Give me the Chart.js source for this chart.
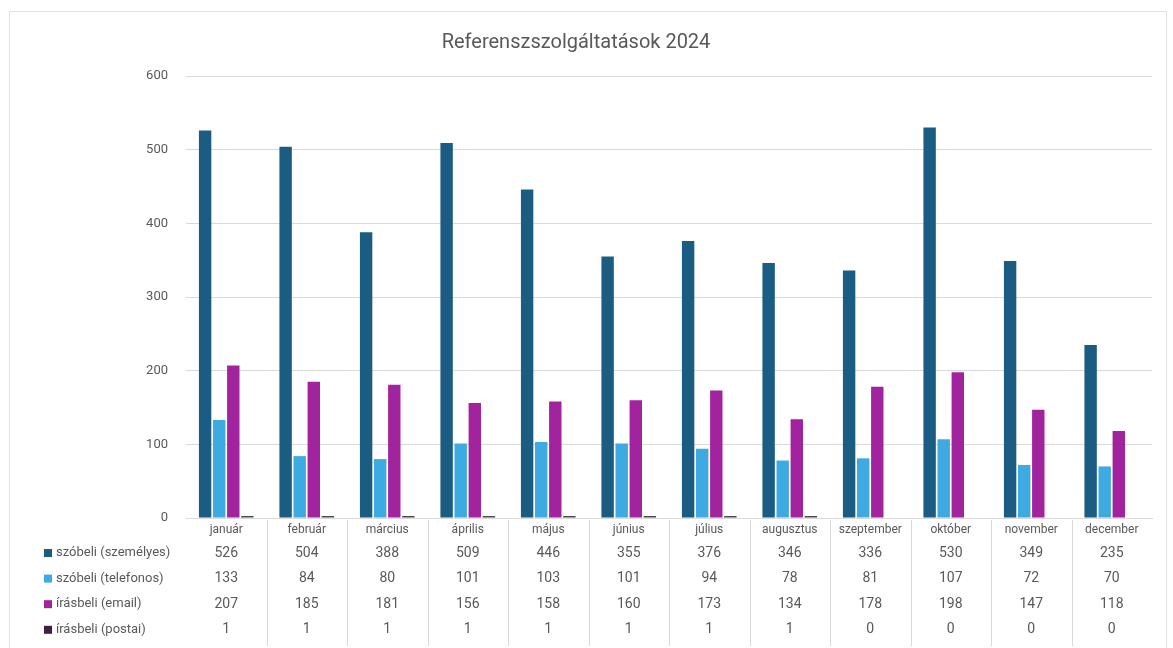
<!DOCTYPE html>
<html>
<head>
<meta charset="utf-8">
<script src="https://cdn.jsdelivr.net/npm/chart.js@4.4.1/dist/chart.umd.min.js"></script>
<style>
  html, body { margin: 0; padding: 0; background: #fff; }
  #wrap { width: 1173px; height: 648px; position: relative; }
</style>
</head>
<body>
<div id="wrap"><canvas id="chart" width="1173" height="648"></canvas></div>
<script>
/* ================== DATA ================== */
const months = ["január", "február", "március", "április", "május", "június",
                "július", "augusztus", "szeptember", "október", "november", "december"];
const seriesNames = ["szóbeli (személyes)", "szóbeli (telefonos)", "írásbeli (email)", "írásbeli (postai)"];
const szemelyes = [526, 504, 388, 509, 446, 355, 376, 346, 336, 530, 349, 235];
const telefonos = [133, 84, 80, 101, 103, 101, 94, 78, 81, 107, 72, 70];
const email     = [207, 185, 181, 156, 158, 160, 173, 134, 178, 198, 147, 118];
const postai    = [1, 1, 1, 1, 1, 1, 1, 1, 0, 0, 0, 0];
const yTicks    = [0, 100, 200, 300, 400, 500, 600];

const colors = ["#1a5c82", "#3eaae2", "#a2239e", "#3e2040"];
const TEXT = "#595959";
const GRID = "#d9d9d9";
const FONT = "Roboto, 'Liberation Sans', sans-serif";

/* ================== TABLE + FRAME PLUGIN ================== */
const dataTable = {
    id: "dataTable",
    beforeDraw(chart) {
        const c = chart.ctx;
        c.save();
        c.strokeStyle = "#e2e2e2";
        c.lineWidth = 1;
        c.strokeRect(9.5, 11.5, 1157, 640);
        c.restore();
    },
    afterDraw(chart) {
        const c = chart.ctx;
        const x = chart.scales.x;
        const area = chart.chartArea;
        const step = x.getPixelForValue(1) - x.getPixelForValue(0);
        c.save();

        // column separators
        c.strokeStyle = GRID;
        c.lineWidth = 1;
        for (let i = 1; i < months.length; i++) {
            const px = Math.round(x.getPixelForValue(i) - step / 2) + 0.5;
            c.beginPath();
            c.moveTo(px, area.bottom + 2);
            c.lineTo(px, area.bottom + 128);
            c.stroke();
        }

        // rows
        chart.data.datasets.forEach((ds, r) => {
            const y = area.bottom + 35 + r * 25.6;
            c.fillStyle = colors[r];
            c.fillRect(44, y - 4, 8, 8);
            c.fillStyle = TEXT;
            c.font = "13px " + FONT;
            c.textAlign = "left";
            c.textBaseline = "middle";
            c.fillText(seriesNames[r], 56, y);
            c.font = "14px " + FONT;
            c.textAlign = "center";
            ds.data.forEach((v, i) => {
                c.fillText(String(v), x.getPixelForValue(i), y);
            });
        });
        c.restore();
    }
};

/* ================== CHART ================== */
const series = [szemelyes, telefonos, email, postai];

new Chart(document.getElementById("chart"), {
    type: "bar",
    data: {
        labels: months,
        datasets: series.map((d, i) => ({
            label: seriesNames[i],
            data: d,
            backgroundColor: i === 3
                ? (ctx => ctx.raw > 0 ? "#4a4a4a" : "rgba(0,0,0,0)")
                : colors[i],
            categoryPercentage: 0.7,
            barPercentage: 0.88,
            minBarLength: i === 3 ? 2 : 0
        }))
    },
    options: {
        responsive: false,
        animation: false,
        layout: { padding: { left: 0, right: 21, top: 0, bottom: 0 } },
        plugins: {
            legend: { display: false },
            tooltip: { enabled: false },
            title: {
                display: true,
                text: "Referenszszolgáltatások 2024",
                color: TEXT,
                font: { family: FONT, size: 20, weight: "normal" },
                padding: { top: 31, bottom: 21 }
            }
        },
        scales: {
            x: {
                grid: { display: false },
                border: { color: GRID },
                ticks: { color: TEXT, font: { family: FONT, size: 12 }, padding: -3, maxRotation: 0 },
                afterFit(scale) { scale.height = 130; }
            },
            y: {
                min: yTicks[0],
                max: yTicks[yTicks.length - 1],
                afterBuildTicks(scale) { scale.ticks = yTicks.map(v => ({ value: v })); },
                grid: { color: GRID, drawTicks: false },
                border: { display: false },
                ticks: { color: TEXT, font: { family: FONT, size: 13 }, padding: 18 },
                afterFit(scale) { scale.width = 186; }
            }
        }
    },
    plugins: [dataTable]
});
</script>
</body>
</html>
